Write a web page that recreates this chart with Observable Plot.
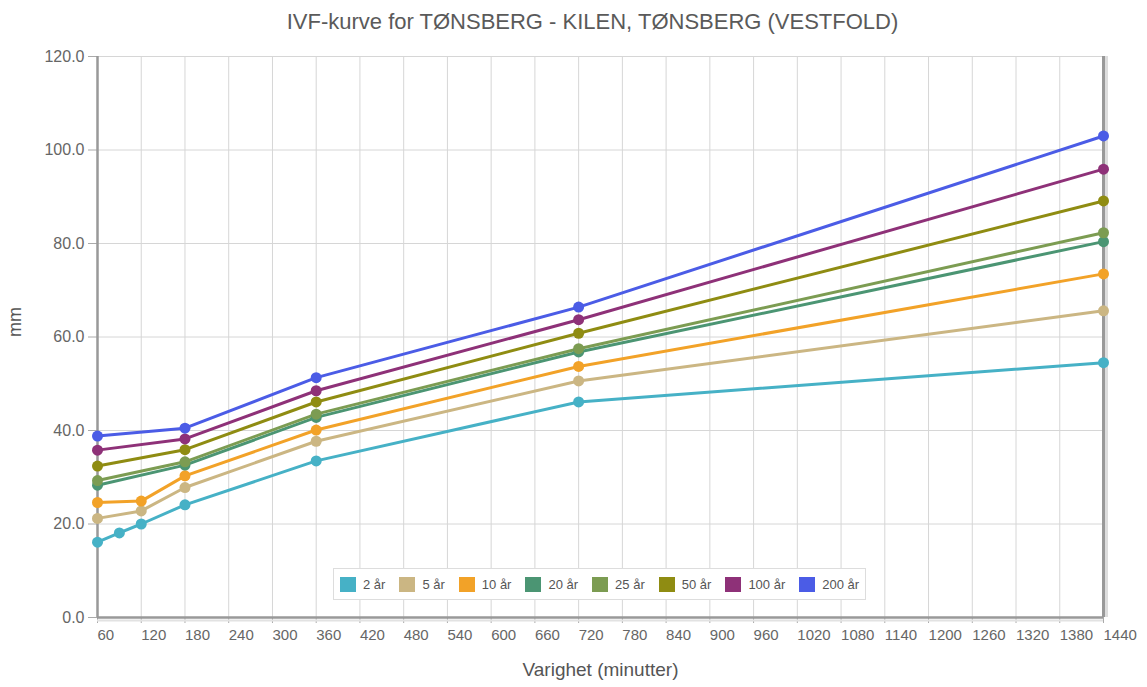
<!DOCTYPE html>
<html>
<head>
<meta charset="utf-8">
<script src="https://cdn.jsdelivr.net/npm/d3@7"></script>
<script src="https://cdn.jsdelivr.net/npm/@observablehq/plot@0.6"></script>
<style>
  html, body { margin: 0; padding: 0; background: #fff; }
  body { width: 1147px; height: 687px; overflow: hidden; font-family: "Liberation Sans", Arial, sans-serif; }
  #title { height: 40px; line-height: 44px; text-align: center; font-size: 22px; color: #5a5a5a; padding-left: 38px; }
  #wrap { position: relative; width: 1147px; height: 647px; }
  #legend { position: absolute; left: 333px; top: 528px; height: 30px; padding: 0 6px; display: flex; align-items: center;
            background: #fff; border: 1px solid #ddd; font-size: 13px; color: #555; }
  .item { display: flex; align-items: center; margin-right: 14px; }
  .item:last-child { margin-right: 0; }
  .sw { width: 16px; height: 15px; margin-right: 7px; }
</style>
</head>
<body>
<div id="title">IVF-kurve for TØNSBERG - KILEN, TØNSBERG (VESTFOLD)</div>
<div id="wrap"><div id="chart"></div><div id="legend"></div></div>
<script>
const durations = [60, 90, 120, 180, 360, 720, 1440];
const seriesNames = ["2 år", "5 år", "10 år", "20 år", "25 år", "50 år", "100 år", "200 år"];
const seriesColors = ["#46b1c6", "#cbb683", "#f2a228", "#4b9573", "#7c9c52", "#8f8c12", "#8e3178", "#4b5ce6"];
const v2   = [16.1, 18.1, 20.0, 24.1, 33.5, 46.1, 54.5];
const v5   = [21.2, null, 22.8, 27.8, 37.7, 50.6, 65.6];
const v10  = [24.6, null, 24.9, 30.3, 40.1, 53.7, 73.5];
const v20  = [28.3, null, null, 32.6, 42.8, 56.8, 80.4];
const v25  = [29.3, null, null, 33.3, 43.5, 57.5, 82.3];
const v50  = [32.4, null, null, 35.9, 46.1, 60.8, 89.1];
const v100 = [35.8, null, null, 38.2, 48.5, 63.7, 95.9];
const v200 = [38.8, null, null, 40.5, 51.3, 66.4, 103.0];
const xTicks = d3.range(60, 1441, 60);
const yTicks = [0, 20, 40, 60, 80, 100, 120];

const allValues = [v2, v5, v10, v20, v25, v50, v100, v200];
const data = [];
allValues.forEach((vals, i) => {
  vals.forEach((v, j) => {
    if (v != null) data.push({series: seriesNames[i], dur: durations[j], mm: v});
  });
});

const chart = Plot.plot({
  width: 1147,
  height: 647,
  marginLeft: 97,
  marginRight: 44,
  marginTop: 16,
  marginBottom: 70,
  x: {domain: [60, 1440]},
  y: {domain: [0, 120]},
  color: {domain: seriesNames, range: seriesColors},
  style: {fontFamily: "Liberation Sans, Arial, sans-serif", fontSize: "15px", color: "#666", background: "transparent"},
  marks: [
    Plot.gridX(xTicks, {stroke: "#d6d6d6", strokeOpacity: 1}),
    Plot.gridY(yTicks, {stroke: "#d6d6d6", strokeOpacity: 1}),
    Plot.axisX(xTicks, {tickSize: 6, tickPadding: 6, textAnchor: "start", tickFormat: d => String(d), label: null, stroke: "#aaa"}),
    Plot.axisY(yTicks, {tickSize: 9, tickPadding: 4, fontSize: 16, tickFormat: d => d.toFixed(1), label: null, stroke: "#aaa"}),
    Plot.ruleX([1440], {stroke: "#ddd", strokeWidth: 3, dx: 3}),
    Plot.ruleX([1440], {stroke: "#999", strokeWidth: 3}),
    Plot.ruleX([60], {stroke: "#999", strokeWidth: 2.5}),
    Plot.ruleY([0], {stroke: "#999", strokeWidth: 2.5}),
    Plot.ruleY([0], {stroke: "#e2e2e2", strokeWidth: 2, dy: 3}),
    Plot.lineY(data, {x: "dur", y: "mm", z: "series", stroke: "series", strokeWidth: 3}),
    Plot.dot(data, {x: "dur", y: "mm", fill: "series", r: 5.5}),
    Plot.text(["Varighet (minutter)"], {frameAnchor: "bottom", dy: 58, fontSize: 19, fill: "#555"}),
    Plot.text(["mm"], {frameAnchor: "left", dx: -82, rotate: -90, fontSize: 18, fill: "#555"})
  ]
});
document.getElementById("chart").appendChild(chart);

const legend = document.getElementById("legend");
seriesNames.forEach((name, i) => {
  const item = document.createElement("div");
  item.className = "item";
  const sw = document.createElement("div");
  sw.className = "sw";
  sw.style.background = seriesColors[i];
  const lab = document.createElement("span");
  lab.textContent = name;
  item.appendChild(sw);
  item.appendChild(lab);
  legend.appendChild(item);
});
</script>
</body>
</html>
